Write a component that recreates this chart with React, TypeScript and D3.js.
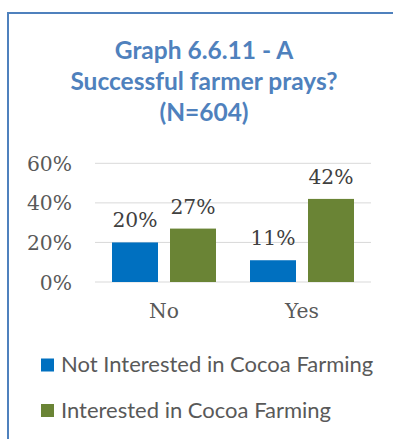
import React from "react";
import * as d3 from "d3";

const categories = ["No", "Yes"];
const seriesNames = ["Not Interested in Cocoa Farming", "Interested in Cocoa Farming"];
const notInterestedValues = [20, 11];
const interestedValues = [27, 42];
const yTicks = [0, 20, 40, 60];
const colors = ["#0070C0", "#6A8435"];
const titleLines = ["Graph 6.6.11 - A", "Successful farmer prays?", "(N=604)"];

export default function App() {
  const W = 393, H = 439;
  const left = 95, right = 371, top = 163.3, bottom = 282;
  const x0 = d3.scaleBand<string>().domain(categories).range([left, right]).paddingInner(0).paddingOuter(0);
  const x1 = d3.scaleBand<string>().domain(seriesNames).range([17, x0.bandwidth() - 17]).paddingInner(12 / 58);
  const y = d3.scaleLinear().domain([0, 60]).range([bottom, top]);
  const series = [notInterestedValues, interestedValues];
  return (
    <svg width={W} height={H} style={{ position: "absolute", left: 0, top: 0 }}>
      <rect x={0} y={0} width={W} height={H} fill="#fff" />
      <rect x={8} y={13} width={W + 10} height={H + 10} fill="none" stroke="#4F81BD" strokeWidth={2} />
      {titleLines.map((t, i) => (
        <text key={i} x={204} y={59 + i * 31} textAnchor="middle" fontFamily="Lato, sans-serif" fontWeight="bold" fontSize={24.5} fill="#4F81BD">{t}</text>
      ))}
      {yTicks.map((t) => (
        <g key={t}>
          <line x1={left} x2={right} y1={y(t)} y2={y(t)} stroke="#D9D9D9" strokeWidth={1} />
          <text x={72} y={y(t) + 7.5} textAnchor="end" fontFamily="'DejaVu Serif', serif" fontSize={20.3} fill="#595959">{t}%</text>
        </g>
      ))}
      {categories.map((c, ci) => (
        <g key={c}>
          {seriesNames.map((s, si) => {
            const v = series[si][ci];
            const bx = (x0(c) as number) + (x1(s) as number);
            return (
              <g key={s}>
                <rect x={bx} y={y(v)} width={x1.bandwidth()} height={bottom - y(v)} fill={colors[si]} />
                <text x={bx + x1.bandwidth() / 2} y={y(v) - 15} textAnchor="middle" fontFamily="'DejaVu Serif', serif" fontSize={20.3} fill="#404040">{v}%</text>
              </g>
            );
          })}
          <text x={(x0(c) as number) + x0.bandwidth() / 2} y={318} textAnchor="middle" fontFamily="'DejaVu Serif', serif" fontSize={20.3} fill="#595959">{c}</text>
        </g>
      ))}
      {seriesNames.map((s, i) => (
        <g key={s}>
          <rect x={41} y={358.5 + i * 45.5} width={13} height={13} fill={colors[i]} />
          <text x={61} y={372 + i * 45.5} fontFamily="Lato, sans-serif" fontSize={22} fill="#595959">{s}</text>
        </g>
      ))}
    </svg>
  );
}
